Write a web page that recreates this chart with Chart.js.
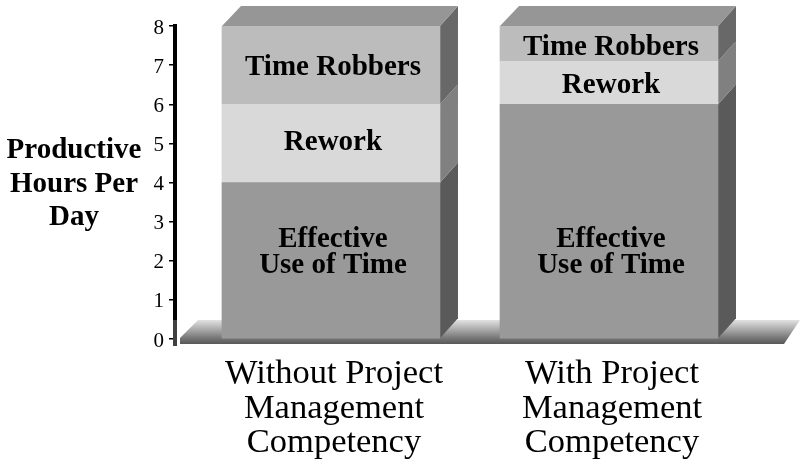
<!DOCTYPE html>
<html>
<head>
<meta charset="utf-8">
<script src="https://cdn.jsdelivr.net/npm/chart.js@4"></script>
<style>
    html, body { margin: 0; padding: 0; background: #fff; }
    canvas { display: block; }
</style>
</head>
<body>
<canvas id="myChart" width="800" height="460"></canvas>
<script>
// Data
const categories = [
    ["Without Project", "Management", "Competency"],
    ["With Project", "Management", "Competency"]
]
const effective = [4, 6]
const rework = [2, 1.1]
const robbers = [2, 0.9]
const yTicks = [0, 1, 2, 3, 4, 5, 6, 7, 8]
const yTitle = ["Productive", "Hours Per", "Day"]
const barLabels = [["Effective", "Use of Time"], ["Rework"], ["Time Robbers"]]

const serif = "'Liberation Serif', 'Times New Roman', serif"
const depthX = 18
const depthY = 20

// Where each label sits on the y axis, per segment and per bar
const labelAnchors = [[2.2, 2.2], [5.01, 6.47], [6.95, 7.45]]

function toPoints(list) {
    return list.map((v, i) => ({ x: i, y: v }))
}

function fillShape(ctx, color, points) {
    ctx.fillStyle = color
    ctx.beginPath()
    points.forEach((p, i) => i ? ctx.lineTo(p[0], p[1]) : ctx.moveTo(p[0], p[1]))
    ctx.closePath()
    ctx.fill()
}

// Floor under the bars, then the side and top faces of the boxes
const box3d = {
    id: "box3d",
    beforeDatasetsDraw(chart) {
        const ctx = chart.ctx
        const area = chart.chartArea
        const base = chart.scales.y.getPixelForValue(0)

        const grad = ctx.createLinearGradient(0, base - 19, 0, base + 5)
        grad.addColorStop(0, "#e2e2e2")
        grad.addColorStop(0.75, "#777777")
        grad.addColorStop(1, "#585858")
        fillShape(ctx, grad, [
            [area.left + 5, base + 5],
            [area.left + 5, base - 1],
            [area.left + 23, base - 19],
            [area.right, base - 19],
            [area.right - 16, base + 5]
        ])
        ctx.fillStyle = "#404040"
        ctx.fillRect(area.left - 2, base - 19, 4, 26)

        const sideColors = ["#5a5a5a", "#808080", "#686868"]
        chart.data.datasets.forEach((ds, d) => {
            chart.getDatasetMeta(d).data.forEach((bar) => {
                const right = bar.x + bar.width / 2
                const left = bar.x - bar.width / 2
                fillShape(ctx, sideColors[d], [
                    [right, bar.y],
                    [right + depthX, bar.y - depthY],
                    [right + depthX, bar.base - depthY],
                    [right, bar.base]
                ])
                if (d == 2) {
                    fillShape(ctx, "#969696", [
                        [left, bar.y],
                        [left + depthX + 1, bar.y - depthY],
                        [right + depthX, bar.y - depthY],
                        [right, bar.y]
                    ])
                }
            })
        })
    },
    afterDatasetsDraw(chart) {
        const ctx = chart.ctx
        const y = chart.scales.y
        ctx.save()
        ctx.fillStyle = "#000"
        ctx.textAlign = "center"
        ctx.textBaseline = "middle"
        ctx.font = "bold 29px " + serif

        // Axis title, horizontal
        yTitle.forEach((line, i) => ctx.fillText(line, 74, 151 + i * 33.5))

        // Labels inside the boxes
        chart.getDatasetMeta(0).data.forEach((bar, j) => {
            barLabels.forEach((lines, d) => {
                const mid = y.getPixelForValue(labelAnchors[d][j])
                lines.forEach((line, k) => {
                    ctx.fillText(line, bar.x + 2, mid + (k - (lines.length - 1) / 2) * 26)
                })
            })
        })
        ctx.restore()
    }
}

const canvas = document.getElementById("myChart")

new Chart(canvas, {
    type: "bar",
    data: {
        datasets: [
            { data: toPoints(effective), backgroundColor: "#999999", barThickness: 218 },
            { data: toPoints(rework), backgroundColor: "#d9d9d9", barThickness: 218 },
            { data: toPoints(robbers), backgroundColor: "#bcbcbc", barThickness: 218 }
        ]
    },
    options: {
        responsive: false,
        animation: false,
        layout: { padding: { top: 26 } },
        plugins: { legend: { display: false }, tooltip: { enabled: false } },
        scales: {
            x: {
                type: "linear",
                offset: false,
                stacked: true,
                min: -0.561,
                max: 1.687,
                grid: { display: false },
                border: { display: false },
                afterBuildTicks(scale) {
                    scale.ticks = categories.map((c, i) => ({ value: i }))
                },
                afterFit(scale) {
                    scale.height = 121
                },
                ticks: {
                    autoSkip: false,
                    maxRotation: 0,
                    padding: 10,
                    labelOffset: 3,
                    color: "#000",
                    font: { family: serif, size: 34.5, lineHeight: 1 },
                    callback: (value) => categories[value]
                }
            },
            y: {
                stacked: true,
                min: 0,
                max: 8,
                afterBuildTicks(scale) {
                    scale.ticks = yTicks.map((v) => ({ value: v }))
                },
                afterFit(scale) {
                    scale.width = 175
                },
                grid: { drawOnChartArea: false, color: "#000", lineWidth: 1.5, tickLength: 6 },
                border: { color: "#000", width: 4 },
                ticks: {
                    padding: 5,
                    labelOffset: 2,
                    color: "#000",
                    font: { family: serif, size: 21 }
                }
            }
        }
    },
    plugins: [box3d]
})
</script>
</body>
</html>
